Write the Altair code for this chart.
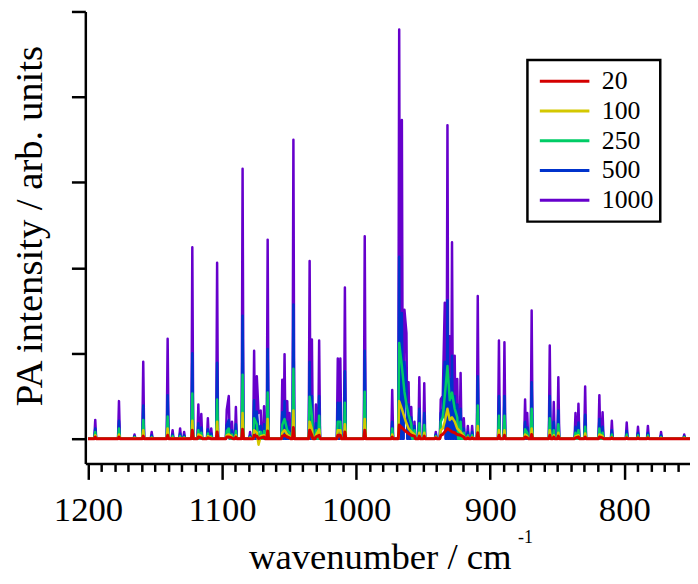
import altair as alt
import pandas as pd

# ---------------- data ----------------
series_names = ["20", "100", "250", "500", "1000"]
series_colors = ["#d40000", "#d4c800", "#00cc66", "#0033cc", "#6600cc"]

# peak positions (cm^-1)
peak_wn = [1194.6, 1176.9, 1165.3, 1158.8, 1152.5, 1140.6, 1136.9, 1131.3, 1128.3,
           1122.2, 1117.7, 1115.5, 1110.6, 1108.1, 1103.7, 1096.5, 1095.0, 1092.6,
           1089.7, 1084.7, 1079.1, 1076.1, 1074.1, 1072.8, 1071.2, 1068.7, 1066.0,
           1055.1, 1053.4, 1051.4, 1049.7, 1046.8, 1034.7, 1033.0, 1030.0, 1027.6,
           1013.7, 1011.8, 1008.4, 993.6, 973.1, 967.9, 965.9, 964.0, 962.5, 960.9,
           958.9, 956.5, 952.9, 949.2, 940.6, 936.9, 935.4, 933.9, 931.9, 930.2,
           928.5, 926.5, 924.6, 922.1, 919.7, 916.7, 913.5, 909.3, 893.5, 889.4,
           874.0, 872.4, 869.1, 855.6, 852.6, 849.2, 836.4, 834.2, 829.2, 818.6,
           816.2, 809.3, 798.2, 789.8, 782.4, 772.6, 755.3]

h1000 = [0.22, 0.44, 0.05, 0.90, 0.08, 1.17, 0.10, 0.12, 0.08,
         2.24, 0.40, 0.29, 0.24, 0.12, 2.06, 0.34, 0.50, 0.20,
         0.37, 3.16, 0.08, 1.03, 0.73, 0.30, 0.33, 0.38, 2.33,
         0.69, 0.99, 0.44, 0.30, 3.50, 2.08, 1.16, 0.40, 1.15,
         0.94, 0.94, 1.77, 2.37, 0.57, 4.79, 3.73, 1.51, 1.24, 0.66,
         0.37, 0.20, 0.72, 0.65, 0.08, 0.46, 0.50, 1.59, 3.67, 1.20,
         2.30, 0.97, 0.70, 0.77, 0.24, 0.15, 0.15, 1.67, 1.15, 1.13,
         0.46, 0.30, 1.50, 1.09, 0.43, 0.72, 0.30, 0.41, 0.61, 0.51,
         0.31, 0.21, 0.19, 0.14, 0.15, 0.08, 0.05]

h500 = [0.12, 0.21, 0.03, 0.39, 0.04, 0.51, 0.05, 0.06, 0.04,
        1.00, 0.18, 0.13, 0.11, 0.06, 0.89, 0.16, 0.22, 0.10,
        0.17, 1.44, 0.04, 0.45, 0.32, 0.10, 0.15, 0.17, 1.05,
        0.31, 0.44, 0.20, 0.13, 1.57, 0.90, 0.50, 0.18, 0.50,
        0.42, 0.42, 0.79, 1.03, 0.20, 2.13, 1.47, 0.90, 0.60, 0.40,
        0.25, 0.15, 0.35, 0.30, 0.05, 0.30, 0.35, 0.90, 1.62, 0.70,
        0.97, 0.50, 0.40, 0.35, 0.12, 0.08, 0.08, 0.73, 0.50, 0.50,
        0.20, 0.13, 0.66, 0.50, 0.20, 0.33, 0.14, 0.19, 0.28, 0.23,
        0.14, 0.10, 0.09, 0.07, 0.07, 0.04, 0.03]

h250 = [0.08, 0.12, 0.02, 0.22, 0.02, 0.26, 0.03, 0.03, 0.02,
        0.53, 0.10, 0.07, 0.06, 0.03, 0.46, 0.09, 0.12, 0.05,
        0.09, 0.75, 0.02, 0.24, 0.17, -0.04, 0.08, 0.09, 0.54,
        0.16, 0.23, 0.10, 0.07, 0.82, 0.49, 0.27, 0.10, 0.27,
        0.20, 0.20, 0.42, 0.55, 0.12, 1.12, 0.85, 0.55, 0.40, 0.28,
        0.17, 0.10, 0.18, 0.16, 0.03, 0.20, 0.25, 0.50, 0.85, 0.45,
        0.54, 0.35, 0.25, 0.20, 0.07, 0.04, 0.04, 0.39, 0.27, 0.27,
        0.11, 0.07, 0.35, 0.24, 0.10, 0.17, 0.07, 0.10, 0.14, 0.12,
        0.07, 0.05, 0.05, 0.04, 0.04, 0.02, 0.02]

h100 = [0.04, 0.05, 0.01, 0.10, 0.01, 0.12, 0.01, 0.01, 0.01,
        0.21, 0.05, 0.03, 0.03, 0.01, 0.20, 0.04, 0.05, 0.02,
        0.04, 0.30, 0.01, 0.10, 0.07, -0.07, 0.03, 0.04, 0.23,
        0.07, 0.10, 0.05, 0.03, 0.33, 0.20, 0.11, 0.04, 0.11,
        0.10, 0.10, 0.17, 0.23, 0.05, 0.44, 0.35, 0.25, 0.18, 0.12,
        0.08, 0.05, 0.07, 0.07, 0.02, 0.10, 0.12, 0.20, 0.35, 0.22,
        0.25, 0.20, 0.12, 0.08, 0.03, 0.02, 0.02, 0.15, 0.10, 0.10,
        0.05, 0.03, 0.12, 0.10, 0.04, 0.07, 0.03, 0.04, 0.06, 0.05,
        0.03, 0.02, 0.02, 0.02, 0.02, 0.01, 0.01]

h20 = [0.02, 0.02, 0.00, 0.03, 0.00, 0.04, 0.00, 0.00, 0.00,
       0.10, 0.02, 0.01, 0.01, 0.00, 0.08, 0.02, 0.02, 0.01,
       0.02, 0.11, 0.00, 0.04, 0.03, 0.00, 0.01, 0.02, 0.09,
       0.03, 0.04, 0.02, 0.01, 0.13, 0.10, 0.04, 0.02, 0.04,
       0.04, 0.04, 0.08, 0.10, 0.02, 0.16, 0.13, 0.10, 0.08, 0.06,
       0.04, 0.03, 0.03, 0.03, 0.01, 0.04, 0.05, 0.08, 0.12, 0.10,
       0.08, 0.07, 0.05, 0.04, 0.02, 0.01, 0.01, 0.07, 0.04, 0.04,
       0.02, 0.01, 0.05, 0.04, 0.02, 0.03, 0.01, 0.02, 0.02, 0.02,
       0.01, 0.01, 0.01, 0.01, 0.01, 0.00, 0.00]

x_start, x_end = 1200.0, 750.0
x_major = [1200, 1100, 1000, 900, 800]
x_minor = [v for v in range(1200, 749, -10) if v % 100 != 0]
y_ticks = [0, 1, 2, 3, 4, 5]

heights = {"1000": h1000, "500": h500, "250": h250, "100": h100, "20": h20}

# ---------------- build line tables ----------------
HALF = 0.7   # half width of a narrow line
# neighbours closer than this are joined at the top (strong series show separate spikes)
GAPS = {"1000": 1.6, "500": 1.6, "250": 2.1, "100": 2.6, "20": 2.6}


def build(name):
    gap = GAPS[name]
    pairs = sorted(zip(peak_wn, heights[name]), key=lambda p: -p[0])
    xs, ys = [x_start], [0.0]
    n = len(pairs)
    for i, (c, h) in enumerate(pairs):
        if i == 0 or pairs[i - 1][0] - c >= gap:
            xs.append(c + HALF)
            ys.append(0.0)
        xs.append(c)
        ys.append(h)
        if i == n - 1 or c - pairs[i + 1][0] >= gap:
            xs.append(c - HALF)
            ys.append(0.0)
    xs.append(x_end)
    ys.append(0.0)
    return pd.DataFrame({"wn": xs, "val": ys, "series": name, "idx": range(len(xs))})


df = pd.concat([build(s) for s in series_names], ignore_index=True)

FONT = "Liberation Serif, Times New Roman, Times, serif"
xscale = alt.Scale(domain=[1202, 751], nice=False, zero=False)
yscale = alt.Scale(domain=[-0.29, 5.0], nice=False, zero=False)
cscale = alt.Scale(domain=series_names, range=series_colors)

yaxis = alt.Axis(values=y_ticks, labels=False, tickSize=14, tickWidth=2.5, tickColor="black",
                 domainColor="black", domainWidth=2.5, grid=False,
                 title="PA intensity / arb. units", titleFont=FONT, titleFontSize=39,
                 titleFontWeight="normal", titleColor="black", titleAngle=270,
                 titleX=-56, titleY=216, titleAlign="center", titleBaseline="middle")

major_axis = alt.Axis(values=x_major, format="d", orient="bottom", tickSize=16, tickWidth=2.5,
                      tickColor="black", domainColor="black", domainWidth=2.5, grid=False,
                      labelFont=FONT, labelFontSize=35, labelColor="black", labelFlush=False,
                      labelBaseline="alphabetic", labelPadding=42, labelOverlap=False,
                      title="wavenumber / cm", titleFont=FONT, titleFontSize=37,
                      titleFontWeight="normal", titleColor="black", titleX=297, titleY=106,
                      titleAlign="center", titleBaseline="alphabetic")

minor_axis = alt.Axis(values=x_minor, orient="bottom", tickSize=8, tickWidth=2.5,
                      tickColor="black", domain=False, labels=False, grid=False, title=None)

legend = alt.Legend(orient="none", legendX=446, legendY=49, title=None,
                    symbolType="stroke", symbolSize=2500, symbolStrokeWidth=3,
                    clipHeight=30, rowPadding=0, padding=6.5, symbolOffset=4.5,
                    labelFont=FONT, labelFontSize=26, labelColor="black", labelOffset=11,
                    strokeColor="black")

widths = {"1000": 2.5, "500": 2.5, "250": 2.5, "100": 2.5, "20": 3.0}


def layer(name, x_axis):
    return alt.Chart(df).transform_filter(alt.datum.series == name).mark_line(
        strokeWidth=widths[name], strokeJoin="round"
    ).encode(
        x=alt.X("wn:Q", scale=xscale, axis=x_axis),
        y=alt.Y("val:Q", scale=yscale, axis=yaxis),
        color=alt.Color("series:N", scale=cscale, legend=legend),
        order=alt.Order("idx:Q"),
    )


sup = alt.Chart(pd.DataFrame({"t": ["-1"]})).mark_text(
    font=FONT, fontSize=18, color="black", align="center", baseline="middle"
).encode(text="t:N", x=alt.value(444), y=alt.value(531))

chart = alt.layer(
    layer("1000", major_axis),
    layer("500", minor_axis),
    layer("250", None),
    layer("100", None),
    layer("20", None),
    sup,
).resolve_axis(x="independent").properties(
    width=610, height=456,
    autosize=alt.AutoSizeParams(type="none"),
    padding={"left": 78, "top": 1, "right": 0, "bottom": 111},
).configure_view(stroke=None).configure_legend(strokeWidth=2.5)

chart.save("out.html", embed_options={"renderer": "svg", "actions": False})
